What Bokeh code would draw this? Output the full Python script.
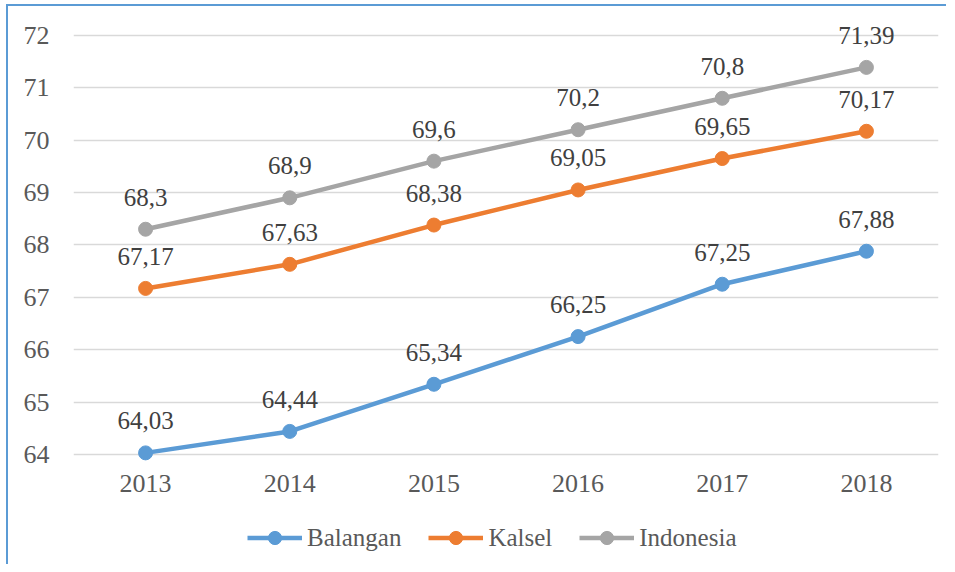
from bokeh.plotting import figure
from bokeh.models import FactorRange, Range1d, FixedTicker, Legend, LegendItem, ColumnDataSource
from bokeh.core.properties import value
from bokeh.embed import file_html
from bokeh.resources import INLINE

years = ["2013", "2014", "2015", "2016", "2017", "2018"]
balangan = [64.03, 64.44, 65.34, 66.25, 67.25, 67.88]
kalsel = [67.17, 67.63, 68.38, 69.05, 69.65, 70.17]
indonesia = [68.3, 68.9, 69.6, 70.2, 70.8, 71.39]
y_ticks = [64, 65, 66, 67, 68, 69, 70, 71, 72]

series = [
    ("Balangan", balangan, "#5B9BD5"),
    ("Kalsel", kalsel, "#ED7D31"),
    ("Indonesia", indonesia, "#A5A5A5"),
]

FONT = "Liberation Serif"

# layout: frame spans to the canvas bottom so the legend can sit inside it
H, TOP, BOTTOM = 560, 8, 2
PX_PER_UNIT = 52.375
Y_END = 72.4
Y_START = Y_END - (H - TOP - BOTTOM) / PX_PER_UNIT

p = figure(
    width=940, height=H,
    x_range=FactorRange(factors=years, range_padding=0),
    y_range=Range1d(Y_START, Y_END),
    output_backend="svg", toolbar_location=None,
    min_border_left=65, min_border_right=10, min_border_top=TOP, min_border_bottom=BOTTOM,
)
p.styles = {"border-left": "2px solid #5B9BD5", "border-top": "2px solid #5B9BD5",
            "margin-left": "6px", "margin-top": "4px"}
p.outline_line_color = None
p.background_fill_color = "white"

p.xaxis.visible = False
p.xgrid.grid_line_color = None
p.ygrid.grid_line_color = "#D9D9D9"
p.ygrid.grid_line_width = 1.3
p.yaxis.ticker = FixedTicker(ticks=y_ticks)
p.yaxis.axis_line_color = None
p.yaxis.major_tick_line_color = None
p.yaxis.minor_tick_line_color = None
p.yaxis.major_label_standoff = 18
p.yaxis.major_label_text_font = FONT
p.yaxis.major_label_text_font_size = "26px"
p.yaxis.major_label_text_color = "#595959"

# category (year) labels under the lowest gridline
p.text(x=years, y=[y_ticks[0]] * len(years), text=years, text_align="center",
       text_baseline="alphabetic", y_offset=29, text_font=value(FONT),
       text_font_size="26px", text_color="#595959")

items = []
for name, vals, color in series:
    src = ColumnDataSource(dict(x=years, y=vals, lab=[f"{v:g}".replace(".", ",") for v in vals]))
    r1 = p.line("x", "y", source=src, line_color=color, line_width=4.5)
    r2 = p.scatter("x", "y", source=src, size=14, fill_color=color, line_color=color)
    p.text("x", "y", text="lab", source=src, text_align="center", text_baseline="alphabetic",
           y_offset=-32, text_font=value(FONT), text_font_size="25px", text_color="#404040")
    items.append(LegendItem(label=name, renderers=[r1, r2]))

legend = Legend(items=items, orientation="horizontal", location=(174, 10),
                glyph_width=55, glyph_height=33, label_height=33, label_standoff=5, spacing=27,
                padding=0, margin=0, border_line_color=None, background_fill_alpha=0,
                label_text_font=FONT, label_text_font_size="25px", label_text_color="#595959")
p.add_layout(legend, "center")

open("out.html", "w").write(file_html(p, INLINE))
